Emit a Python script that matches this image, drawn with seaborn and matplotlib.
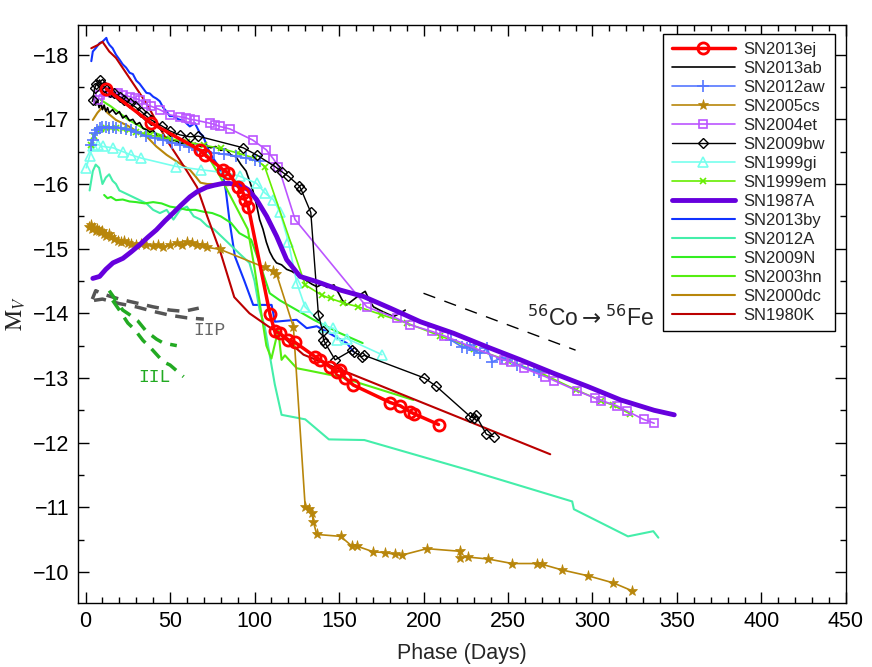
import numpy as np
import pandas as pd
import matplotlib
matplotlib.use("Agg")
import matplotlib.pyplot as plt
from matplotlib.ticker import MultipleLocator
import seaborn as sns

# ---- light curves (phase in days, absolute V magnitude) ----
sn2013ej_d = [12.3, 39, 68, 70.6, 81.4, 84.4, 90.3, 93.3, 94.3, 96.3, 109.1, 112, 115, 120, 124,
              135.8, 138.8, 144.7, 148.7, 150.5, 153.6, 158.5, 180.3, 186.2, 191.8, 194.1, 208.9]
sn2013ej_m = [-17.47, -16.94, -16.52, -16.45, -16.22, -16.17, -15.96, -15.86, -15.76, -15.65, -13.99, -13.72,
              -13.69, -13.59, -13.55, -13.33, -13.28, -13.17, -13.1, -13.12, -13.0, -12.89, -12.62, -12.57,
              -12.48, -12.45, -12.28]

sn2013ab_d = [4, 5, 6, 7, 8, 9, 10, 11, 12, 13, 14, 16, 18, 20, 22, 24, 26, 28, 30, 32, 34, 36, 38, 40, 42,
              44, 46, 48, 50, 53, 56, 59, 62, 65, 68, 71, 74, 77, 80, 83, 86, 89, 92, 95, 97, 99, 101, 103,
              105, 107, 109, 111, 113, 116, 119, 122, 125, 128, 131, 134, 137, 140, 143, 147, 150, 152,
              154.6, 158, 162, 165.5, 168, 170.4, 174, 178, 182.3, 186, 189.2]
sn2013ab_m = [-17.28, -17.33, -17.22, -17.3, -17.18, -17.25, -17.15, -17.22, -17.12, -17.18, -17.1, -17.15,
              -17.08, -17.12, -17.02, -17.06, -16.98, -17.0, -16.92, -16.95, -16.86, -16.84, -16.8, -16.83,
              -16.76, -16.74, -16.7, -16.72, -16.66, -16.68, -16.62, -16.65, -16.6, -16.63, -16.58, -16.6,
              -16.56, -16.58, -16.52, -16.54, -16.45, -16.42, -16.3, -16.2, -16.05, -15.9, -15.7, -15.45,
              -15.3, -15.1, -14.95, -14.85, -14.78, -14.75, -14.68, -14.65, -14.6, -14.55, -14.5, -14.45,
              -14.41, -14.45, -14.4, -14.44, -14.3, -14.2, -14.13, -14.2, -14.28, -14.34, -14.2, -14.1,
              -14.05, -14.0, -13.95, -14.0, -14.05]

sn2012aw_d1 = [3.5, 4.3, 5.3, 6.5, 8.3, 10, 12, 14, 16, 18, 21, 24, 27, 30, 36, 41, 46, 51, 56, 61, 66,
               71, 76, 82, 89, 95, 100, 103]
sn2012aw_m1 = [-16.6, -16.68, -16.79, -16.83, -16.87, -16.88, -16.88, -16.87, -16.88, -16.87, -16.86,
               -16.85, -16.83, -16.8, -16.74, -16.71, -16.68, -16.64, -16.61, -16.57, -16.53, -16.5,
               -16.48, -16.46, -16.43, -16.4, -16.37, -16.35]
sn2012aw_d2 = [216, 222.8, 225.8, 227.8, 229.7, 233.7, 237.7, 240.6, 246.6, 249.5, 255.4, 265.3, 268.3]
sn2012aw_m2 = [-13.59, -13.48, -13.47, -13.51, -13.43, -13.38, -13.46, -13.25, -13.31, -13.28, -13.2,
               -13.12, -13.1]

sn2005cs_d = [2, 3, 4, 5, 6, 7, 8, 9, 10, 11, 12, 14, 15, 17, 19, 21, 23, 25, 27, 30, 33, 36, 40, 43, 46,
              50, 54, 57, 60, 63, 66, 69, 72, 79.5, 106, 111, 113, 123, 130, 132.5, 134, 134.8, 136.8, 151,
              157.6, 160.5, 170.4, 177.3, 183.3, 187.2, 202, 221.4, 221.8, 226.2, 238.2, 252.5, 266.9,
              269.9, 282.1, 297.4, 312.4, 323.3]
sn2005cs_m = [-15.33, -15.36, -15.3, -15.32, -15.28, -15.3, -15.27, -15.25, -15.28, -15.22, -15.2, -15.22,
              -15.18, -15.15, -15.12, -15.1, -15.12, -15.08, -15.07, -15.05, -15.07, -15.05, -15.04,
              -15.06, -15.03, -15.05, -15.08, -15.06, -15.1, -15.08, -15.06, -15.05, -15.02, -14.99,
              -14.71, -14.65, -14.61, -13.79, -11.0, -10.97, -10.91, -10.78, -10.58, -10.55, -10.4, -10.4,
              -10.31, -10.3, -10.27, -10.26, -10.36, -10.32, -10.22, -10.23, -10.2, -10.13, -10.13,
              -10.12, -10.03, -9.94, -9.83, -9.71]

sn2004et_d = [7.3, 8.3, 12, 16.2, 19, 22.1, 26.1, 29, 32, 36, 39, 43.9, 49.8, 55.8, 59.7, 61.7, 64.7,
              73.5, 76.5, 79.5, 85.6, 98.9, 106.9, 111.1, 114.1, 124, 166.4, 184.3, 192.2, 205, 212.4,
              247.5, 251.5, 259.4, 272.2, 277.2, 291, 301.3, 305.3, 314.4, 320.3, 330.2, 336.5]
sn2004et_m = [-17.3, -17.38, -17.42, -17.41, -17.4, -17.38, -17.35, -17.33, -17.3, -17.23, -17.2, -17.15,
              -17.07, -17.04, -17.02, -17.0, -16.99, -16.94, -16.92, -16.89, -16.85, -16.68, -16.53,
              -16.39, -16.27, -15.45, -14.1, -13.92, -13.82, -13.72, -13.65, -13.28, -13.25, -13.15,
              -13.02, -12.96, -12.8, -12.69, -12.65, -12.57, -12.49, -12.36, -12.3]

sn2009bw_d = [4.3, 5.3, 6.3, 8.3, 9.5, 11, 14.2, 17, 20.2, 23, 26.1, 29, 33, 36, 39, 45, 50, 55.8, 61.7,
              66.6, 93.3, 101.2, 112.1, 116.1, 120, 126.5, 127.5, 133.3, 137.8, 140.3, 140.8, 141.8,
              147.7, 157.6, 159, 163.5, 165, 200.5, 207.6, 227.8, 229.7, 231, 237.2, 241.6]
sn2009bw_m = [-17.3, -17.48, -17.54, -17.61, -17.55, -17.5, -17.43, -17.4, -17.35, -17.3, -17.25, -17.2,
              -17.12, -17.05, -16.99, -16.9, -16.82, -16.76, -16.73, -16.74, -16.56, -16.45, -16.27,
              -16.19, -16.12, -15.97, -15.92, -15.56, -13.98, -13.72, -13.59, -13.54, -13.28, -13.43,
              -13.4, -13.33, -13.35, -13.0, -12.87, -12.4, -12.38, -12.42, -12.13, -12.09]

sn1999gi_d = [0.4, 2.4, 4.3, 7.3, 10.3, 16.2, 22.1, 27, 33, 53.8, 68.6, 83.5, 91.3, 101.2, 106.2, 111.1,
              115, 120, 125, 129.9, 141.8, 146.7, 148.7, 154.6, 175.4]
sn1999gi_m = [-16.25, -16.43, -16.58, -16.61, -16.58, -16.56, -16.5, -16.45, -16.4, -16.27, -16.22,
              -16.17, -16.12, -16.01, -15.86, -15.76, -15.57, -15.11, -14.47, -14.1, -13.79, -13.77,
              -13.59, -13.61, -13.36]

sn1999em_d = [3, 5, 7, 9, 12, 15, 18, 22, 26, 30, 34, 38, 44, 50, 60, 70, 80, 90, 100, 106, 130, 139.8,
              145, 152.6, 161.5, 175, 190, 210, 230, 250, 270, 290, 305, 312, 322]
sn1999em_m = [-16.6, -16.75, -16.82, -16.85, -16.86, -16.87, -16.87, -16.85, -16.83, -16.8, -16.78,
              -16.76, -16.72, -16.7, -16.65, -16.6, -16.55, -16.48, -16.4, -16.27, -14.44, -14.28,
              -14.23, -14.16, -14.1, -13.98, -13.85, -13.65, -13.45, -13.27, -13.07, -12.82, -12.65,
              -12.58, -12.45]

sn1987a_d = [4.3, 8.3, 12, 16.2, 22.1, 27, 32, 37, 41.9, 47, 51.8, 56, 61.7, 66, 71.6, 76, 81.4, 85,
             89.4, 93.3, 96.3, 101.2, 107.2, 113.1, 119, 126.9, 136.8, 150.7, 164.5, 180.3, 198.1, 217.9,
             237.7, 257.4, 277.2, 297, 316.7, 336.5, 348.4]
sn1987a_m = [-14.54, -14.57, -14.68, -14.78, -14.85, -14.95, -15.06, -15.18, -15.29, -15.43, -15.55,
             -15.66, -15.8, -15.88, -15.95, -15.98, -16.01, -16.01, -15.99, -15.96, -15.91, -15.76, -15.5,
             -15.19, -14.83, -14.57, -14.49, -14.36, -14.26, -14.08, -13.87, -13.69, -13.48, -13.28,
             -13.07, -12.87, -12.66, -12.5, -12.43]

sn2013by_d = [3.4, 4.3, 6, 8.3, 10, 12.3, 13, 14.2, 16, 18, 20.2, 22, 24, 26.1, 28, 30, 32, 34, 36, 38,
              40, 42, 43.9, 46, 48, 49.8, 52, 55, 58, 61.7, 64.7, 67.6, 69.6, 73.5, 77.5, 81.4, 83, 85.4,
              88.4, 94, 99.2, 110.1, 112.1, 124.9, 130.9, 136.8, 154.6, 158.5]
sn2013by_m = [-17.9, -18.05, -18.1, -18.18, -18.2, -18.26, -18.2, -18.15, -18.1, -18.0, -17.92, -17.85,
              -17.8, -17.72, -17.7, -17.6, -17.55, -17.48, -17.41, -17.4, -17.35, -17.32, -17.28, -17.18,
              -17.12, -17.05, -17.05, -17.0, -16.98, -16.89, -16.94, -16.79, -16.74, -16.48, -16.32,
              -16.12, -15.9, -15.39, -14.88, -14.5, -14.13, -14.13, -13.87, -13.9, -13.77, -13.8, -13.54,
              -13.41]

sn2012a_d = [2.4, 4.3, 6, 8, 10, 12, 14, 16, 18, 20, 24, 28, 32, 36, 40, 44, 48, 52, 56, 60, 64, 68, 72,
             76, 80, 86, 92, 97, 100, 103, 106, 108, 110, 112, 116, 130, 144, 165, 226, 288, 289, 321,
             336, 339]
sn2012a_m = [-15.9, -16.2, -16.3, -16.25, -16.0, -16.1, -16.15, -16.05, -16.0, -15.9, -15.85, -15.8,
             -15.75, -15.7, -15.6, -15.55, -15.6, -15.45, -15.6, -15.65, -15.5, -15.45, -15.35, -15.3,
             -15.2, -15.05, -14.9, -14.78, -14.5, -14.05, -13.8, -13.5, -13.2, -12.9, -12.43, -12.36,
             -12.05, -12.04, -11.58, -11.09, -10.97, -10.55, -10.63, -10.53]

sn2009n_d = [11, 13, 15, 18, 22, 26, 30, 35, 40, 45, 50, 55, 60, 65, 70, 75, 80, 86, 91, 98, 104, 109,
             115, 125, 135, 150, 164]
sn2009n_m = [-15.83, -15.78, -15.8, -15.75, -15.76, -15.73, -15.72, -15.7, -15.72, -15.7, -15.65, -15.63,
             -15.6, -15.6, -15.57, -15.55, -15.5, -15.4, -15.24, -15.14, -14.7, -14.31, -14.2, -14.05,
             -13.9, -13.7, -13.54]

sn2003hn_d = [9, 15, 25, 35, 45, 55, 65, 72, 80, 88, 96, 100, 104, 107, 110, 114, 116, 118, 125, 131,
              150, 194]
sn2003hn_m = [-17.3, -17.2, -17.0, -16.85, -16.75, -16.65, -16.55, -16.45, -16.1, -15.7, -15.3, -14.7,
              -14.0, -13.5, -13.3, -13.74, -13.28, -13.35, -13.15, -13.12, -13.02, -12.66]

sn2000dc_d = [4.3, 7, 10.3, 13, 18, 25, 30, 36, 41.9, 48, 53.8, 58, 61.7, 65, 68, 72, 78, 84, 89]
sn2000dc_m = [-16.99, -17.1, -17.2, -17.1, -16.99, -16.9, -16.82, -16.74, -16.58, -16.45, -16.35, -16.28,
              -16.22, -16.12, -16.02, -16.0, -16.0, -15.98, -16.0]

sn1980k_d = [3.4, 7.3, 10, 14, 18, 27, 36, 48, 60, 66, 72, 80, 88, 97, 108, 113, 129, 275]
sn1980k_m = [-18.1, -18.15, -18.2, -18.05, -17.95, -17.6, -17.25, -16.68, -16.2, -15.95, -15.5, -14.93,
             -14.25, -14.0, -13.8, -13.72, -13.36, -11.82]

# ---- templates and decay slope ----
iip_a_d = [4, 6, 10, 20, 30, 40, 50, 58, 67]
iip_a_m = [-14.22, -14.35, -14.3, -14.22, -14.16, -14.1, -14.05, -14.03, -14.08]
iip_b_d = [5, 10, 20, 30, 40, 50, 60, 70]
iip_b_m = [-14.2, -14.22, -14.15, -14.1, -14.03, -13.97, -13.93, -13.91]
iil_a_d = [14, 18, 22, 26, 31, 36, 42, 46, 54]
iil_a_m = [-14.35, -14.2, -14.05, -13.98, -13.88, -13.72, -13.6, -13.54, -13.5]
iil_b_d = [16, 20, 25, 29, 34, 38, 46, 50, 58]
iil_b_m = [-14.2, -14.05, -13.85, -13.75, -13.58, -13.48, -13.25, -13.2, -13.02]
co_d = [200, 290]
co_m = [-14.31, -13.43]

sns.set_theme(style="ticks")
plt.rcParams['font.family'] = ['Liberation Sans', 'DejaVu Sans']
plt.rcParams['axes.edgecolor'] = 'black'
plt.rcParams['axes.linewidth'] = 1.0

fig = plt.figure(figsize=(8.72, 6.67), dpi=100)
ax = fig.add_axes([0.0894, 0.0960, 0.8807, 0.8666])


def draw(d, m, color, label, lw=1.2, z=2, **kw):
    kw.setdefault('mec', color)
    sns.lineplot(x=d, y=m, ax=ax, color=color, lw=lw, label=label, sort=False,
                 estimator=None, zorder=z, **kw)


draw(sn2013ej_d, sn2013ej_m, '#FF0000', 'SN2013ej', lw=2.5, z=10, marker='o', ms=8,
     mfc='none', mew=2)
draw(sn2013ab_d, sn2013ab_m, 'black', 'SN2013ab', lw=1.2, z=4)
draw(sn2012aw_d1, sn2012aw_m1, '#5577FF', 'SN2012aw', lw=1.2, z=5, marker='+', ms=8, mew=1.2)
draw(sn2012aw_d2, sn2012aw_m2, '#5577FF', '_nolegend_', lw=1.2, z=5, marker='+', ms=8, mew=1.2)
draw(sn2005cs_d, sn2005cs_m, '#B8860B', 'SN2005cs', lw=1.2, z=5, marker='*', ms=8, mew=0.5)
draw(sn2004et_d, sn2004et_m, '#BB55FF', 'SN2004et', lw=1.2, z=5, marker='s', ms=6,
     mfc='none', mew=1.2)
draw(sn2009bw_d, sn2009bw_m, 'black', 'SN2009bw', lw=1.0, z=6, marker='D', ms=5.5,
     mfc='none', mew=1.0)
draw(sn1999gi_d, sn1999gi_m, '#77FFEE', 'SN1999gi', lw=1.2, z=4, marker='^', ms=7,
     mfc='none', mew=1.2)
draw(sn1999em_d, sn1999em_m, '#66EE00', 'SN1999em', lw=1.2, z=4, marker='x', ms=5, mew=1.2)
draw(sn1987a_d, sn1987a_m, '#6600DD', 'SN1987A', lw=3.5, z=7)
draw(sn2013by_d, sn2013by_m, '#1133FF', 'SN2013by', lw=1.5, z=3)
draw(sn2012a_d, sn2012a_m, '#44EEAA', 'SN2012A', lw=1.5, z=3)
draw(sn2009n_d, sn2009n_m, '#33EE22', 'SN2009N', lw=1.5, z=3)
draw(sn2003hn_d, sn2003hn_m, '#55EE11', 'SN2003hn', lw=1.5, z=3)
draw(sn2000dc_d, sn2000dc_m, '#B8860B', 'SN2000dc', lw=1.5, z=3)
draw(sn1980k_d, sn1980k_m, '#BB0000', 'SN1980K', lw=1.5, z=3)

# templates
for d, m in [(iip_a_d, iip_a_m), (iip_b_d, iip_b_m)]:
    ax.plot(d, m, color='#555555', lw=2.5, ls=(0, (3.5, 2.5)), zorder=2)
for d, m in [(iil_a_d, iil_a_m), (iil_b_d, iil_b_m)]:
    ax.plot(d, m, color='#22AA22', lw=2.5, ls=(0, (3.5, 2.5)), zorder=2)
ax.plot(co_d, co_m, color='black', lw=1.0, ls=(0, (9, 7)), zorder=2)

ax.text(73, -13.74, 'IIP', family='Liberation Mono', fontsize=13, color='#666666',
        ha='center', va='center')
ax.text(41, -13.0, 'IIL', family='Liberation Mono', fontsize=13, color='#22AA22',
        ha='center', va='center')
ax.text(261, -13.93, r'$^{56}$Co$\rightarrow$$^{56}$Fe', fontsize=16.5, ha='left', va='center')

ax.set_xlim(-4.5, 450)
ax.set_ylim(-9.52, -18.46)
ax.xaxis.set_major_locator(MultipleLocator(50))
ax.xaxis.set_minor_locator(MultipleLocator(10))
ax.yaxis.set_major_locator(MultipleLocator(1))
ax.yaxis.set_minor_locator(MultipleLocator(0.5))
ax.tick_params(which='both', direction='in', top=True, right=True, labelsize=15.5, colors='black')
ax.tick_params(which='major', length=8, width=1, pad=6)
ax.tick_params(which='minor', length=4, width=1)

ax.set_xlabel('Phase (Days)', fontsize=15.5, labelpad=8)
ax.set_ylabel(r'$\mathrm{M}_V$', fontsize=17, math_fontfamily='stix', labelpad=4)

leg = ax.legend(loc='upper right', bbox_to_anchor=(0.986, 0.985), borderaxespad=0,
                fontsize=12, handlelength=3.8, handletextpad=0.5, labelspacing=0.24,
                borderpad=0.5, frameon=True, fancybox=False, framealpha=1, numpoints=1)
leg.get_frame().set_edgecolor('black')
leg.get_frame().set_linewidth(1.0)

fig.savefig('out.png', dpi=100)
